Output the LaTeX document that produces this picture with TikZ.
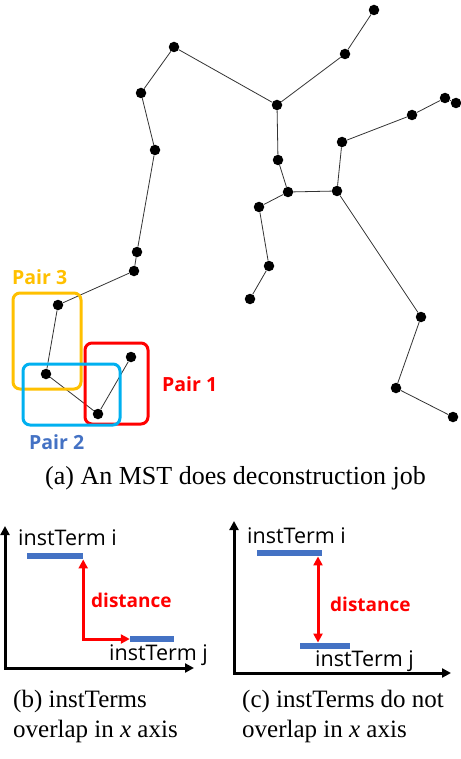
\documentclass[tikz,border=0pt]{standalone}
\usepackage{fontspec}
\setmainfont{Liberation Serif}
\newfontfamily\labfont{Open Sans}
\usetikzlibrary{arrows.meta}
\definecolor{pairyellow}{HTML}{FFC000}
\definecolor{pairblue}{HTML}{00B0F0}
\definecolor{pairred}{HTML}{FF0000}
\definecolor{labblue}{HTML}{4472C4}
\definecolor{edgegray}{HTML}{333333}
\tikzset{
  dot/.style={circle,fill=black,inner sep=0pt,minimum size=10.5pt},
  edge/.style={draw=edgegray,line width=0.8pt},
  pairbox/.style={line width=3pt,rounded corners=7pt},
  pairlab/.style={font=\labfont\bfseries\fontsize{19.5}{22}\selectfont,inner sep=0pt},
  termlab/.style={font=\labfont\fontsize{21.5}{24}\selectfont,inner sep=0pt},
  distlab/.style={font=\labfont\bfseries\fontsize{19}{22}\selectfont,text=pairred,inner sep=0pt},
  bar/.style={fill=labblue,inner sep=0pt,minimum height=6.5pt},
  axis/.style={line width=3pt,{Triangle[length=9pt,width=9pt]}-{Triangle[length=9pt,width=9pt]}},
  redarrow/.style={draw=pairred,line width=3pt,{Triangle[length=9pt,width=9pt]}-{Triangle[length=9pt,width=9pt]}},
  capt/.style={font=\fontsize{25}{30}\selectfont,inner sep=0pt}
}
\begin{document}
\begin{tikzpicture}[x=1pt,y=-1pt]
\useasboundingbox (0,0) rectangle (460,759);
% --- MST nodes
\node[dot] (A) at (374,10) {};
\node[dot] (B) at (345,54) {};
\node[dot] (C) at (174,47) {};
\node[dot] (D) at (277,105) {};
\node[dot] (E) at (141,93) {};
\node[dot] (F) at (155,150) {};
\node[dot] (G) at (278,160) {};
\node[dot] (H) at (288,192) {};
\node[dot] (I) at (337,191) {};
\node[dot] (J) at (342,142) {};
\node[dot] (K) at (412,115) {};
\node[dot] (L) at (445,98) {};
\node[dot] (M) at (456,103) {};
\node[dot] (N) at (259,207) {};
\node[dot] (O) at (269,266) {};
\node[dot] (P) at (137,252) {};
\node[dot] (Q) at (134,271) {};
\node[dot] (R) at (250,299) {};
\node[dot] (S) at (421,317) {};
\node[dot] (T) at (396,388) {};
\node[dot] (U) at (453,417) {};
\node[dot] (V) at (58,305) {};
\node[dot] (W) at (46,374) {};
\node[dot] (X) at (98,414) {};
\node[dot] (Y) at (131,357) {};
% --- MST edges
\foreach \a/\b in {A/B,B/D,C/D,C/E,E/F,F/P,P/Q,Q/V,V/W,W/X,X/Y,D/G,G/H,H/I,H/N,N/O,O/R,I/J,J/K,K/L,L/M,I/S,S/T,T/U}
  \draw[edge] (\a) -- (\b);
% --- pair boxes
\draw[pairbox,draw=pairyellow] (13,293) rectangle (81,389);
\draw[pairbox,draw=pairred] (85,343) rectangle (148,424);
\draw[pairbox,draw=pairblue] (23,364) rectangle (120,425);
\node[pairlab,text=pairyellow,anchor=west] (p3) at (12,277) {Pair 3};
\node[pairlab,text=pairred,anchor=west] (p1) at (162,384) {Pair 1};
\node[pairlab,text=labblue,anchor=west] (p2) at (29,442) {Pair 2};
\node[capt,font=\fontsize{26}{30}\selectfont] (capa) at (235.5,478) {(a) An MST does deconstruction job};
% --- panel b
\coordinate (yb) at (5,526);
\coordinate (xb) at (194,668);
\draw[axis] (yb) |- (xb);
\node[bar,minimum width=56pt] (bi1) at (55,556) {};
\node[bar,minimum width=44pt] (bj1) at (152,639) {};
\draw[redarrow] (bj1.west) -| (bi1.south east);
\node[termlab,anchor=west] (ti1) at (18,538) {instTerm i};
\node[termlab,anchor=west] (tj1) at (109,655) {instTerm j};
\node[distlab,anchor=west] (d1) at (91,600) {distance};
% --- panel c
\coordinate (yc) at (234,521);
\coordinate (xc) at (451,673);
\draw[axis] (yc) |- (xc);
\node[bar,minimum width=65pt] (bi2) at (289.5,553) {};
\node[bar,minimum width=50pt] (bj2) at (325,646) {};
\coordinate (ac) at (318,600);
\draw[redarrow] (bi2.south -| ac) -- (bj2.north -| ac);
\node[termlab,anchor=west] (ti2) at (247,536) {instTerm i};
\node[termlab,anchor=west] (tj2) at (315,661) {instTerm j};
\node[distlab,anchor=west] (d2) at (330,604) {distance};
% --- captions
\node[capt,anchor=north west,align=left] (capb) at (13,690) {(b) instTerms\\overlap in \textit{x} axis};
\node[capt,anchor=north west,align=left] (capc) at (242,690) {(c) instTerms do not\\overlap in \textit{x} axis};
\end{tikzpicture}
\end{document}
